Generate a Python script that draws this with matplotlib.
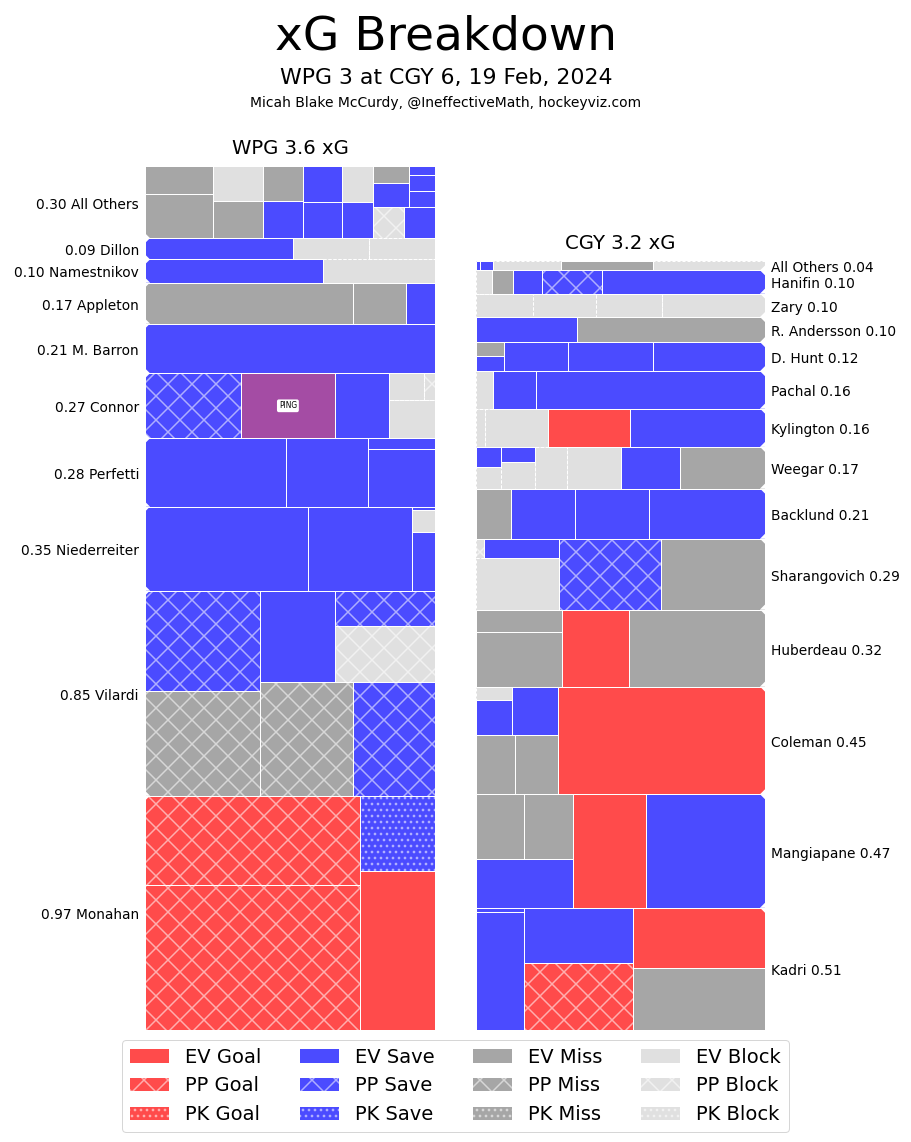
import matplotlib
matplotlib.use('Agg')
import matplotlib.pyplot as plt
import matplotlib.patches as mpatches
from matplotlib.colors import to_rgb

# outcome colours and strength hatches
colours = {'Goal': '#ff4b4b', 'Save': '#4b4bff', 'Miss': '#a6a6a6',
           'Block': '#e0e0e0', 'PING': '#a44ca4'}
hatches = {'EV': '', 'PP': 'x', 'PK': '..'}

# Winnipeg, biggest total first (drawn from the bottom up)
wpg_players = ['Monahan', 'Vilardi', 'Niederreiter', 'Perfetti', 'Connor',
               'M. Barron', 'Appleton', 'Namestnikov', 'Dillon', 'All Others']
wpg_xg = [
    [0.445, 0.275, 0.170, 0.081],
    [0.173, 0.165, 0.150, 0.134, 0.098, 0.080, 0.050],
    [0.196, 0.125, 0.019, 0.007, 0.001],
    [0.138, 0.080, 0.055, 0.010],
    [0.0895, 0.0867, 0.0504, 0.0251, 0.0136, 0.0043],
    [0.206],
    [0.122, 0.031, 0.017],
    [0.059, 0.037],
    [0.045, 0.023, 0.020],
    [0.0429, 0.0273, 0.0265, 0.0251, 0.0212, 0.0201, 0.0196, 0.0196, 0.0160,
     0.0160, 0.0138, 0.0138, 0.0124, 0.0088, 0.0060, 0.0060, 0.0034],
]
wpg_kind = [
    ['PP Goal', 'PP Goal', 'EV Goal', 'PK Save'],
    ['PP Miss', 'PP Save', 'PP Miss', 'PP Save', 'EV Save', 'PP Block', 'PP Save'],
    ['EV Save', 'EV Save', 'EV Save', 'EV Block', 'EV Save'],
    ['EV Save', 'EV Save', 'EV Save', 'EV Save'],
    ['PP Save', 'EV PING', 'EV Save', 'EV Block', 'EV Block', 'PP Block'],
    ['EV Save'],
    ['EV Miss', 'EV Miss', 'EV Save'],
    ['EV Save', 'EV Block'],
    ['EV Save', 'EV Block', 'EV Block'],
    ['EV Miss', 'EV Miss', 'EV Miss', 'EV Block', 'EV Save', 'EV Miss', 'EV Save',
     'EV Save', 'EV Save', 'EV Block', 'PP Block', 'EV Save', 'EV Save', 'EV Miss',
     'EV Save', 'EV Save', 'EV Save'],
]

# Calgary
cgy_players = ['Kadri', 'Mangiapane', 'Coleman', 'Huberdeau', 'Sharangovich',
               'Backlund', 'Weegar', 'Kylington', 'Pachal', 'D. Hunt',
               'R. Andersson', 'Zary', 'Hanifin', 'All Others']
cgy_xg = [
    [0.1175, 0.1143, 0.1041, 0.0858, 0.0817, 0.0030],
    [0.1936, 0.1190, 0.0685, 0.0454, 0.0441],
    [0.3189, 0.0364, 0.0335, 0.0325, 0.0181, 0.0066],
    [0.1504, 0.0742, 0.0669, 0.0280],
    [0.1058, 0.1029, 0.0618, 0.0204, 0.0023],
    [0.0838, 0.0526, 0.0467, 0.0249],
    [0.0510, 0.0352, 0.0319, 0.0191, 0.0132, 0.0076, 0.0075, 0.0072],
    [0.0744, 0.0449, 0.0342, 0.0052],
    [0.1229, 0.0234, 0.0090],
    [0.0466, 0.0355, 0.0264, 0.0061, 0.0057],
    [0.0677, 0.0363],
    [0.0345, 0.0221, 0.0212, 0.0190],
    [0.0545, 0.0203, 0.0097, 0.0069, 0.0054],
    [0.0154, 0.0128, 0.0094, 0.0017, 0.0006],
]
cgy_kind = [
    ['EV Miss', 'EV Goal', 'PP Goal', 'EV Save', 'EV Save', 'EV Save'],
    ['EV Save', 'EV Goal', 'EV Save', 'EV Miss', 'EV Miss'],
    ['EV Goal', 'EV Miss', 'EV Miss', 'EV Save', 'EV Save', 'EV Block'],
    ['EV Miss', 'EV Goal', 'EV Miss', 'EV Miss'],
    ['EV Miss', 'PP Save', 'EV Block', 'EV Save', 'PP Block'],
    ['EV Save', 'EV Save', 'EV Save', 'EV Miss'],
    ['EV Miss', 'EV Save', 'EV Block', 'EV Block', 'EV Block', 'EV Save',
     'EV Block', 'EV Save'],
    ['EV Save', 'EV Goal', 'EV Block', 'EV Block'],
    ['EV Save', 'EV Save', 'EV Block'],
    ['EV Save', 'EV Save', 'EV Save', 'EV Save', 'EV Miss'],
    ['EV Miss', 'EV Save'],
    ['EV Block', 'EV Block', 'EV Block', 'EV Block'],
    ['EV Save', 'PP Save', 'EV Save', 'EV Miss', 'EV Block'],
    ['EV Block', 'EV Miss', 'EV Block', 'EV Save', 'EV Save'],
]


# squarified treemap (Bruls et al.), same as the squarify package
def layout(sizes, x, y, dx, dy):
    out = []
    if dx >= dy:
        width = sum(sizes) / dy
        for s in sizes:
            out.append((x, y, width, s / width))
            y += s / width
    else:
        height = sum(sizes) / dx
        for s in sizes:
            out.append((x, y, s / height, height))
            x += s / height
    return out


def leftover(sizes, x, y, dx, dy):
    if dx >= dy:
        width = sum(sizes) / dy
        return x + width, y, dx - width, dy
    height = sum(sizes) / dx
    return x, y + height, dx, dy - height


def worst(sizes, x, y, dx, dy):
    return max(max(w / h, h / w) for _, _, w, h in layout(sizes, x, y, dx, dy))


def squarify(sizes, x, y, dx, dy):
    if len(sizes) == 0:
        return []
    if len(sizes) == 1:
        return layout(sizes, x, y, dx, dy)
    i = 1
    while i < len(sizes) and worst(sizes[:i], x, y, dx, dy) >= worst(sizes[:i + 1], x, y, dx, dy):
        i += 1
    x2, y2, dx2, dy2 = leftover(sizes[:i], x, y, dx, dy)
    return layout(sizes[:i], x, y, dx, dy) + squarify(sizes[i:], x2, y2, dx2, dy2)


def light(c, f=0.55):
    r, g, b = to_rgb(c)
    return (r + (1 - r) * f, g + (1 - g) * f, b + (1 - b) * f)


plt.rcParams['hatch.linewidth'] = 1.5

W, H = 911, 1142
fig = plt.figure(figsize=(W / 72, H / 72), dpi=72)
YS = 241.3       # pixels per xG
AX_H = 863


def draw_team(x0, wpx, team, players, xgs, kinds, left):
    ax = fig.add_axes([x0 / W, (H - 1030) / H, wpx / W, AX_H / H])
    ax.set_ylim(0, AX_H / YS)
    ax.set_xlim((0, 1) if left else (1, 0))
    ax.axis('off')
    cx, cy0 = 5 / wpx, 5 / YS
    y = 0
    n = len(players)
    for i, (name, vals, ks) in enumerate(zip(players, xgs, kinds)):
        total = sum(vals)
        order = sorted(range(len(vals)), key=lambda j: -vals[j])
        sv = [vals[j] for j in order]
        sk = [ks[j] for j in order]
        for (rx, ry, rw, rh), k in zip(squarify(sv, 0, y, 1, total), sk):
            st, outc = k.split()
            col = colours[outc]
            ax.add_patch(mpatches.Rectangle((rx, ry), rw, rh, facecolor=col,
                                            hatch=hatches[st], edgecolor=light(col),
                                            lw=0, zorder=1))
            ax.add_patch(mpatches.Rectangle((rx, ry), rw, rh, fill=False,
                                            edgecolor='white', lw=1,
                                            ls=(0, (3, 2)) if outc == 'Block' else '-',
                                            zorder=2))
            if outc == 'PING':
                ax.text(rx + rw / 2, ry + rh / 2, 'PING', fontsize=7.5, ha='center',
                        va='center', zorder=4,
                        bbox=dict(boxstyle='round,pad=0.25', fc='white', ec='none'))
        cy = min(cy0, total / 2)
        if i > 0:
            ax.add_patch(mpatches.Polygon([(0, y), (cx, y), (0, y + cy)],
                                          closed=True, fc='white', ec='none', zorder=3))
        if i < n - 1:
            ax.add_patch(mpatches.Polygon([(0, y + total), (cx, y + total), (0, y + total - cy)],
                                          closed=True, fc='white', ec='none', zorder=3))
        if left:
            lab = f'{total:.2f} {name}'
        else:
            lab = f'{name} {total:.2f}'
        ax.text(-6 / wpx, y + total / 2 - 2.5 / YS, lab, ha='right' if left else 'left',
                va='center', fontsize=13.7)
        y += total
    ax.text(0.5, y + 12 / YS, f'{team} {y:.1f} xG', ha='center', va='baseline',
            fontsize=19.6)


draw_team(145, 290, 'WPG', wpg_players, wpg_xg, wpg_kind, True)
draw_team(476, 289, 'CGY', cgy_players, cgy_xg, cgy_kind, False)

fig.text(446 / W, 1 - 50 / H, 'xG Breakdown', ha='center', va='baseline', fontsize=47)
fig.text(446 / W, 1 - 84 / H, 'WPG 3 at CGY 6, 19 Feb, 2024', ha='center',
         va='baseline', fontsize=22)
fig.text(446 / W, 1 - 107 / H, 'Micah Blake McCurdy, @IneffectiveMath, hockeyviz.com',
         ha='center', va='baseline', fontsize=13.9)

handles = []
for outc in ['Goal', 'Save', 'Miss', 'Block']:
    for st in ['EV', 'PP', 'PK']:
        handles.append(mpatches.Patch(facecolor=colours[outc], hatch=hatches[st],
                                      edgecolor=light(colours[outc]), lw=0,
                                      label=f'{st} {outc}'))
fig.legend(handles=handles, ncol=4, loc='lower center', bbox_to_anchor=(0.5, 10 / H),
           fontsize=19.5, borderaxespad=0)

fig.savefig('out.png', dpi=72)
